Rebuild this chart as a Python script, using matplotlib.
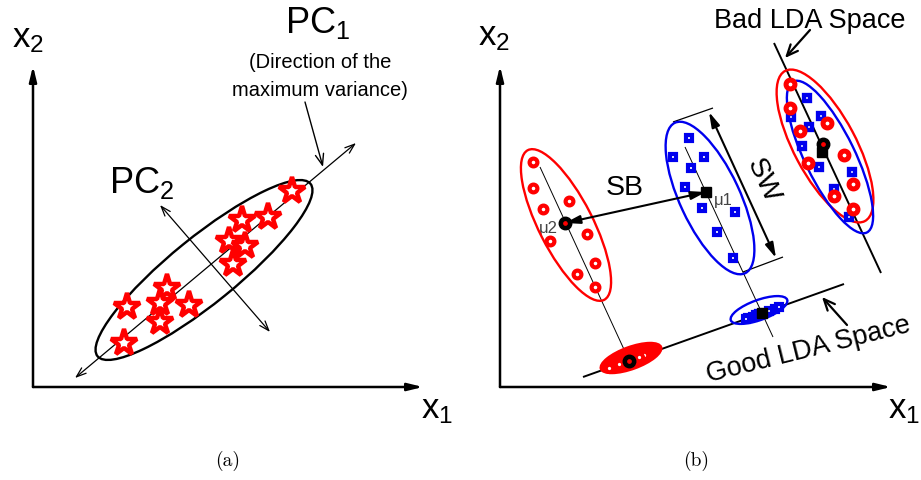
import numpy as np
import matplotlib
matplotlib.use("Agg")
import matplotlib.pyplot as plt
from matplotlib.patches import Ellipse

plt.rcParams['font.family'] = ['Liberation Sans', 'DejaVu Sans']
plt.rcParams['mathtext.fontset'] = 'custom'
plt.rcParams['mathtext.rm'] = 'Liberation Sans'
plt.rcParams['mathtext.it'] = 'Liberation Sans'

# ---------------- data (pixel positions) ----------------
# (a) PCA: star samples
stars_x = [292, 268, 242, 229, 245, 233, 167, 160, 127, 189, 160, 124]
stars_y = [191, 217, 220, 241, 246, 264, 288, 303, 307, 305, 322, 343]

# (b) class 2 (red circles, left cluster) and its mean
c2_x = [533, 533, 543, 569, 550, 587, 595, 577, 595]
c2_y = [162, 188, 209, 201, 241, 234, 263, 274, 287]
mu2 = (565, 223)

# (b) class 1 (blue squares, middle cluster) and its mean
c1_x = [689, 673, 704, 691, 685, 702, 735, 717, 733]
c1_y = [138, 157, 157, 168, 187, 208, 212, 232, 258]
mu1 = (706, 192)

# (b) projections on the bad LDA space
bad_red_x = [790, 790, 800, 827, 808, 844, 853, 834, 853]
bad_red_y = [84, 108, 131, 123, 163, 155, 184, 196, 209]
bad_blue_x = [807, 791, 821, 809, 802, 819, 852, 834, 849]
bad_blue_y = [98, 117, 116, 127, 146, 167, 172, 189, 217]
bad_mu_red = (823, 144)
bad_mu_blue = (822, 152)

# ---------------- figure ----------------
fig = plt.figure(figsize=(9.21, 4.8), dpi=100)
ax = fig.add_axes([0, 0, 1, 1])
ax.set_xlim(0, 921)
ax.set_ylim(480, 0)
ax.axis('off')

RED = '#ff0000'
BLUE = '#0000ee'


def arrow(p0, p1, style='-|>', lw=1.5, hl=0.8, hw=0.25, z=3):
    ax.annotate('', xy=p1, xytext=p0,
                arrowprops=dict(arrowstyle=f'{style},head_length={hl},head_width={hw}',
                                lw=lw, color='k', shrinkA=0, shrinkB=0),
                zorder=z)


def line(p0, p1, lw=1.0, z=2):
    ax.plot([p0[0], p1[0]], [p0[1], p1[1]], color='k', lw=lw, zorder=z,
            solid_capstyle='butt')


def ell(c, w, h, ang, col, lw=1.6, fill=None, z=4):
    ax.add_patch(Ellipse(c, w, h, angle=ang, fill=fill is not None,
                         facecolor=fill if fill else 'none', edgecolor=col,
                         lw=lw, zorder=z))


def project(xs, ys, ang, L0, L1):
    d = np.array([np.cos(np.radians(ang)), np.sin(np.radians(ang))])
    e = np.array(L1, float) - np.array(L0, float)
    M = np.column_stack([d, -e])
    px, py = [], []
    for x, y in zip(xs, ys):
        t, s = np.linalg.solve(M, np.array(L0, float) - np.array([x, y], float))
        q = np.array([x, y]) + t * d
        px.append(q[0]); py.append(q[1])
    return np.array(px), np.array(py)


# ================= (a) =================
arrow((33, 387), (33, 66), lw=1.8, hl=0.9, hw=0.22)
arrow((33, 387), (423, 387), lw=1.8, hl=0.9, hw=0.22)
ax.text(12, 47, r'x$_2$', fontsize=25, ha='left', va='baseline')
ax.text(421, 418, r'x$_1$', fontsize=25, ha='left', va='baseline')

arrow((75, 378), (356, 143), style='<->', lw=0.9, hl=0.7, hw=0.25)
arrow((160, 205), (270, 332), style='<->', lw=0.9, hl=0.7, hw=0.25)
ell((204, 270), 274, 66, -39, 'k', lw=1.7)
ax.plot(stars_x, stars_y, ls='none', marker='*', ms=20, mfc='white', mec=RED,
        mew=3.2, zorder=5)

ax.text(285, 33, r'PC$_1$', fontsize=26, ha='left', va='baseline')
ax.text(320, 68, '(Direction of the', fontsize=14.5, ha='center', va='baseline')
ax.text(320, 96, 'maximum variance)', fontsize=14.5, ha='center', va='baseline')
arrow((305, 102), (323, 167), style='->', lw=1.0, hl=0.8, hw=0.3)
ax.text(109, 193, r'PC$_2$', fontsize=26, ha='left', va='baseline')

ax.text(228, 461, '(a)', fontsize=14, fontfamily='cmr10', ha='center', va='center')

# ================= (b) =================
arrow((500, 387), (500, 66), lw=1.8, hl=0.9, hw=0.22)
arrow((500, 387), (891, 387), lw=1.8, hl=0.9, hw=0.22)
ax.text(478, 45, r'x$_2$', fontsize=25, ha='left', va='baseline')
ax.text(888, 418, r'x$_1$', fontsize=25, ha='left', va='baseline')

good0, good1 = (583, 377), (844, 284)
bad0, bad1 = (774, 43), (881, 273)
line(good0, good1, lw=1.4)
line(bad0, bad1, lw=1.4)

# projections onto the good LDA space
p2x, p2y = project(c2_x, c2_y, 65, good0, good1)
p1x, p1y = project(c1_x, c1_y, 65, good0, good1)
m2p = project([mu2[0]], [mu2[1]], 65, good0, good1)
m1p = project([mu1[0]], [mu1[1]], 65, good0, good1)

# thin cluster axes
line((540, 167), (m2p[0][0], m2p[1][0]), lw=0.7)
line((685, 147), (773, 337), lw=0.7)

# left (class 2) cluster
ell((566, 225), 168, 54, 63, RED, lw=1.7)
ax.plot(c2_x, c2_y, ls='none', marker='o', ms=5.6, mfc='white', mec=RED, mew=3.0, zorder=5)
ax.plot(*mu2, marker='o', ms=9, color='k', zorder=6)
ax.plot(*mu2, marker='o', ms=2.4, color=RED, zorder=7)
ax.text(558, 229, 'μ2', fontsize=12, color='#444444', ha='right', va='center')

# middle (class 1) cluster
ell((710, 198), 166, 60, 65, BLUE, lw=1.7)
ax.plot(c1_x, c1_y, ls='none', marker='s', ms=4.6, mfc='white', mec=BLUE, mew=3.0, zorder=5)
ax.plot(*mu1, marker='s', ms=7.5, color='k', zorder=6)
ax.text(714, 200, 'μ1', fontsize=12, color='#444444', ha='left', va='center')

# SB / SW
arrow(mu1, mu2, style='<|-|>', lw=1.5, hl=0.9, hw=0.25, z=8)
ax.text(606, 195, 'SB', fontsize=20.5, ha='left', va='baseline')
line((673, 122), (713, 108), lw=0.9)
line((743, 272), (783, 257), lw=0.9)
arrow((709, 112), (776, 258), style='<|-|>', lw=1.5, hl=0.9, hw=0.25)
ax.text(763, 181, 'SW', fontsize=20.5, rotation=-65, rotation_mode='anchor',
        ha='center', va='center')

# bad LDA space cluster
ell((825, 146), 170, 62, 62, RED, lw=1.7, z=4)
ell((830, 157), 168, 50, 64, BLUE, lw=1.7, z=4)
ax.plot(bad_blue_x, bad_blue_y, ls='none', marker='s', ms=4.8, mfc='white', mec=BLUE, mew=3.1, zorder=5)
ax.plot(bad_red_x, bad_red_y, ls='none', marker='o', ms=6.4, mfc='white', mec=RED, mew=3.6, zorder=5)
ax.plot(*bad_mu_blue, marker='s', ms=7.5, color='k', zorder=6)
ax.plot(*bad_mu_red, marker='o', ms=9, color='k', zorder=6)
ax.plot(*bad_mu_red, marker='o', ms=2.4, color=RED, zorder=7)

# good LDA space projections
ell((631, 358), 64, 22, -20, RED, lw=1.7, fill=RED, z=4)
ax.plot(p2x, p2y, ls='none', marker='o', ms=5.2, mfc='white', mec=RED, mew=2.8, zorder=5)
ax.plot(m2p[0], m2p[1], marker='o', ms=9, color='k', zorder=6)
ax.plot(m2p[0], m2p[1], marker='o', ms=2.4, color=RED, zorder=7)

ell((759, 310), 60, 20, -20, BLUE, lw=1.7, z=4)
ax.plot(p1x, p1y, ls='none', marker='s', ms=4.6, mfc='white', mec=BLUE, mew=3.0, zorder=5)
ax.plot(m1p[0], m1p[1], marker='s', ms=7.5, color='k', zorder=6)

# labels
ax.text(810, 28, 'Bad LDA Space', fontsize=19.5, ha='center', va='baseline')
arrow((810, 30), (785, 58), style='->', lw=1.6, hl=0.8, hw=0.35)
ax.text(808, 350, 'Good LDA Space', fontsize=19.5, rotation=14, rotation_mode='anchor',
        ha='center', va='center')
arrow((847, 325), (822, 297), style='->', lw=1.6, hl=0.8, hw=0.35)

ax.text(696, 461, '(b)', fontsize=14, fontfamily='cmr10', ha='center', va='center')

fig.savefig('out.png', dpi=100)
